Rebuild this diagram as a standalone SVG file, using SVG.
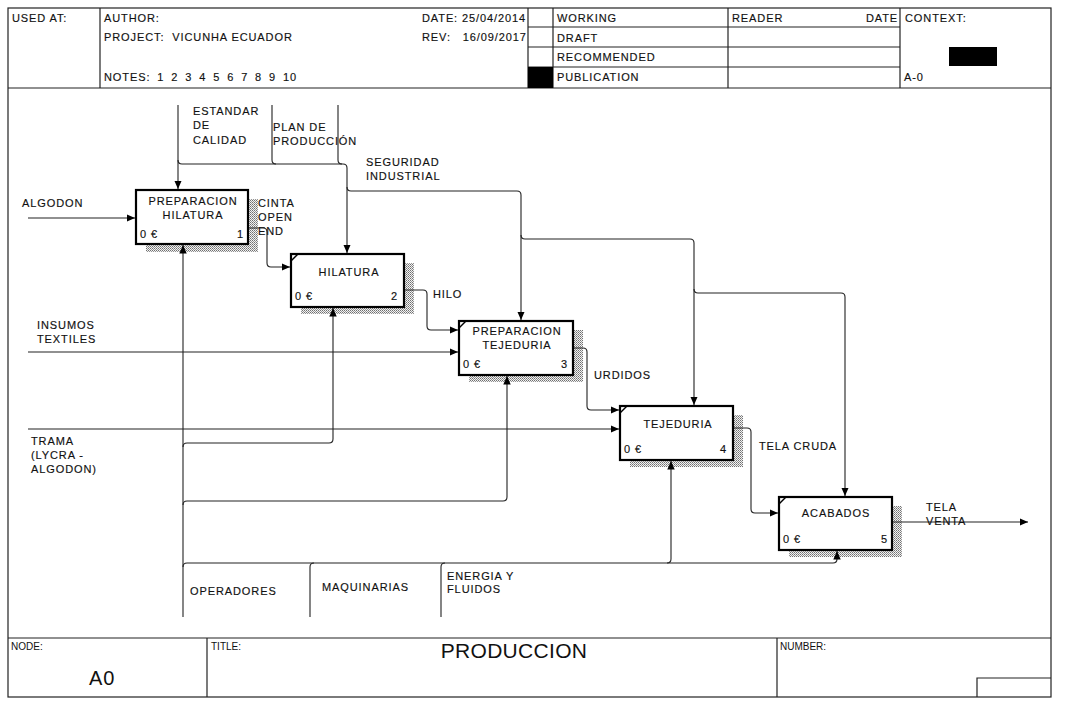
<svg xmlns="http://www.w3.org/2000/svg" width="1073" height="722" viewBox="0 0 1073 722">
<style>
.t{font-family:"Liberation Sans",Arial,sans-serif;font-size:11px;letter-spacing:0.9px;fill:#111;white-space:pre;stroke:#111;stroke-width:0.15}
.m{text-anchor:middle}
.e{text-anchor:end}
.f{fill:none;stroke:#222;stroke-width:1.2}
.c{fill:none;stroke:#222;stroke-width:1.1;stroke-linejoin:round}
.a{marker-end:url(#arr)}
.box{fill:#fff;stroke:#000;stroke-width:2.2}
.sh{fill:url(#hatch)}
.mk{stroke:#000;stroke-width:1.5}
.ft{font-family:"Liberation Sans",Arial,sans-serif;font-size:10px;fill:#111}
</style>
<defs>
<marker id="arr" markerWidth="9" markerHeight="8" refX="8.5" refY="3.75" orient="auto" markerUnits="userSpaceOnUse">
<path d="M0,0 L8.5,3.75 L0,7.5 z" fill="#000"/>
</marker>
<pattern id="hatch" width="2" height="2" patternUnits="userSpaceOnUse">
<rect width="2" height="2" fill="#f2f2f2"/>
<rect x="0" y="0" width="1" height="1" fill="#707070"/>
<rect x="1" y="1" width="1" height="1" fill="#959595"/>
</pattern>
</defs>
<rect width="1073" height="722" fill="#fff"/>

<g id="frame">
<rect class="f" x="8" y="8" width="1043" height="689"/>
<line class="f" x1="8" y1="88" x2="1051" y2="88"/>
<line class="f" x1="8" y1="638" x2="1051" y2="638"/>
<line class="f" x1="100" y1="8" x2="100" y2="88"/>
<line class="f" x1="528" y1="8" x2="528" y2="88"/>
<line class="f" x1="553" y1="8" x2="553" y2="88"/>
<line class="f" x1="728" y1="8" x2="728" y2="88"/>
<line class="f" x1="900" y1="8" x2="900" y2="88"/>
<line class="f" x1="528" y1="27" x2="900" y2="27"/>
<line class="f" x1="528" y1="47" x2="900" y2="47"/>
<line class="f" x1="528" y1="67" x2="900" y2="67"/>
<rect x="528" y="67" width="25" height="21" fill="#000"/>
<rect x="949" y="47" width="48" height="19" fill="#000"/>
<text class="t" x="12" y="22">USED AT:</text>
<text class="t" x="104" y="22">AUTHOR:</text>
<text class="t" x="104" y="41" xml:space="preserve">PROJECT:  VICUNHA ECUADOR</text>
<text class="t" x="104" y="81" style="word-spacing:3px">NOTES: 1 2 3 4 5 6 7 8 9 10</text>
<text class="t" x="422" y="22">DATE: 25/04/2014</text>
<text class="t" x="422" y="41" xml:space="preserve">REV:   16/09/2017</text>
<text class="t" x="557" y="22">WORKING</text>
<text class="t" x="557" y="42">DRAFT</text>
<text class="t" x="557" y="61">RECOMMENDED</text>
<text class="t" x="557" y="81">PUBLICATION</text>
<text class="t" x="732" y="22">READER</text>
<text class="t e" x="898" y="22">DATE</text>
<text class="t" x="905" y="22">CONTEXT:</text>
<text class="t" x="904" y="81">A-0</text>
<line class="f" x1="207" y1="638" x2="207" y2="697"/>
<line class="f" x1="777" y1="638" x2="777" y2="697"/>
<polyline class="f" points="977,697 977,678 1051,678"/>
<text class="ft" x="11" y="650">NODE:</text>
<text class="ft" x="211" y="650">TITLE:</text>
<text class="ft" x="780" y="650">NUMBER:</text>
<text x="89" y="685" style="font-family:'Liberation Sans',Arial,sans-serif;font-size:20px;letter-spacing:1px;fill:#111">A0</text>
<text x="514" y="658" text-anchor="middle" style="font-family:'Liberation Sans',Arial,sans-serif;font-size:21px;letter-spacing:0.3px;fill:#111">PRODUCCION</text>
</g>

<g id="node1">
<rect class="sh" x="146" y="199" width="112" height="53"/>
<rect class="box" x="136" y="190" width="112" height="54"/>
<text class="t m" x="193" y="205">PREPARACION</text>
<text class="t m" x="193" y="219">HILATURA</text>
<text class="t" x="140" y="238">0 €</text>
<text class="t e" x="244" y="238">1</text>
</g>
<g id="node2">
<rect class="sh" x="301" y="263" width="113" height="51"/>
<rect class="box" x="291" y="254" width="113" height="53"/>
<line class="mk" x1="291" y1="261" x2="298" y2="254"/>
<text class="t m" x="349" y="276">HILATURA</text>
<text class="t" x="295" y="300">0 €</text>
<text class="t e" x="398" y="300">2</text>
</g>
<g id="node3">
<rect class="sh" x="469" y="330" width="114" height="52"/>
<rect class="box" x="459" y="321" width="114" height="54"/>
<line class="mk" x1="459" y1="328" x2="466" y2="321"/>
<text class="t m" x="517" y="335">PREPARACION</text>
<text class="t m" x="517" y="349">TEJEDURIA</text>
<text class="t" x="463" y="368">0 €</text>
<text class="t e" x="568" y="368">3</text>
</g>
<g id="node4">
<rect class="sh" x="630" y="415" width="113" height="52"/>
<rect class="box" x="620" y="406" width="113" height="54"/>
<line class="mk" x1="620" y1="413" x2="627" y2="406"/>
<text class="t m" x="678" y="428">TEJEDURIA</text>
<text class="t" x="624" y="453">0 €</text>
<text class="t e" x="727" y="453">4</text>
</g>
<g id="node5">
<rect class="sh" x="789" y="506" width="113" height="51"/>
<rect class="box" x="779" y="497" width="113" height="53"/>
<line class="mk" x1="779" y1="504" x2="786" y2="497"/>
<text class="t m" x="836" y="517">ACABADOS</text>
<text class="t" x="783" y="543">0 €</text>
<text class="t e" x="888" y="543">5</text>
</g>

<g id="connectors">
<path class="c a" d="M178,105 V189"/>
<path class="c" d="M272,105 V160 Q272,164 276,164"/>
<path class="c" d="M338,105 V160 Q338,164 342,164"/>
<path class="c a" d="M178,160 Q178,164 182,164 H343 Q347,164 347,168 V253"/>
<path class="c a" d="M347,187 Q347,191 351,191 H517 Q521,191 521,195 V320"/>
<path class="c a" d="M521,235 Q521,239 525,239 H690 Q694,239 694,243 V405"/>
<path class="c a" d="M694,289 Q694,293 698,293 H841 Q845,293 845,297 V496"/>
<path class="c a" d="M28,218 H135"/>
<path class="c a" d="M28,352 H458"/>
<path class="c a" d="M28,429 H619"/>
<path class="c a" d="M249,228 H263 Q267,228 267,232 V263 Q267,267 271,267 H290"/>
<path class="c a" d="M405,290 H423 Q427,290 427,294 V326 Q427,330 431,330 H458"/>
<path class="c a" d="M574,348 H583 Q587,348 587,352 V406 Q587,410 591,410 H619"/>
<path class="c a" d="M734,428 H747 Q751,428 751,432 V509 Q751,513 755,513 H778"/>
<path class="c a" d="M893,522 H1028"/>
<path class="c a" d="M183,617 V245"/>
<path class="c a" d="M183,447 Q183,443 187,443 H329 Q333,443 333,439 V308"/>
<path class="c a" d="M183,505 Q183,501 187,501 H503 Q507,501 507,497 V376"/>
<path class="c a" d="M183,567 Q183,563 187,563 H833 Q837,563 837,559 V551"/>
<path class="c a" d="M667,563 Q671,563 671,559 V461"/>
<path class="c" d="M310,617 V567 Q310,563 314,563"/>
<path class="c" d="M441,617 V567 Q441,563 445,563"/>
<text class="t" x="193" y="115">ESTANDAR</text>
<text class="t" x="193" y="129">DE</text>
<text class="t" x="193" y="144">CALIDAD</text>
<text class="t" x="273" y="131">PLAN DE</text>
<text class="t" x="273" y="145">PRODUCCIÓN</text>
<text class="t" x="366" y="166">SEGURIDAD</text>
<text class="t" x="366" y="180">INDUSTRIAL</text>
<text class="t" x="22" y="207">ALGODON</text>
<text class="t" x="258" y="207">CINTA</text>
<text class="t" x="258" y="221">OPEN</text>
<text class="t" x="258" y="235">END</text>
<text class="t" x="433" y="298">HILO</text>
<text class="t" x="37" y="329">INSUMOS</text>
<text class="t" x="37" y="343">TEXTILES</text>
<text class="t" x="594" y="379">URDIDOS</text>
<text class="t" x="31" y="445">TRAMA</text>
<text class="t" x="31" y="459">(LYCRA -</text>
<text class="t" x="31" y="473">ALGODON)</text>
<text class="t" x="759" y="450">TELA CRUDA</text>
<text class="t" x="926" y="511">TELA</text>
<text class="t" x="926" y="525">VENTA</text>
<text class="t" x="190" y="595">OPERADORES</text>
<text class="t" x="322" y="591">MAQUINARIAS</text>
<text class="t" x="447" y="580">ENERGIA Y</text>
<text class="t" x="447" y="593">FLUIDOS</text>
</g>
</svg>
